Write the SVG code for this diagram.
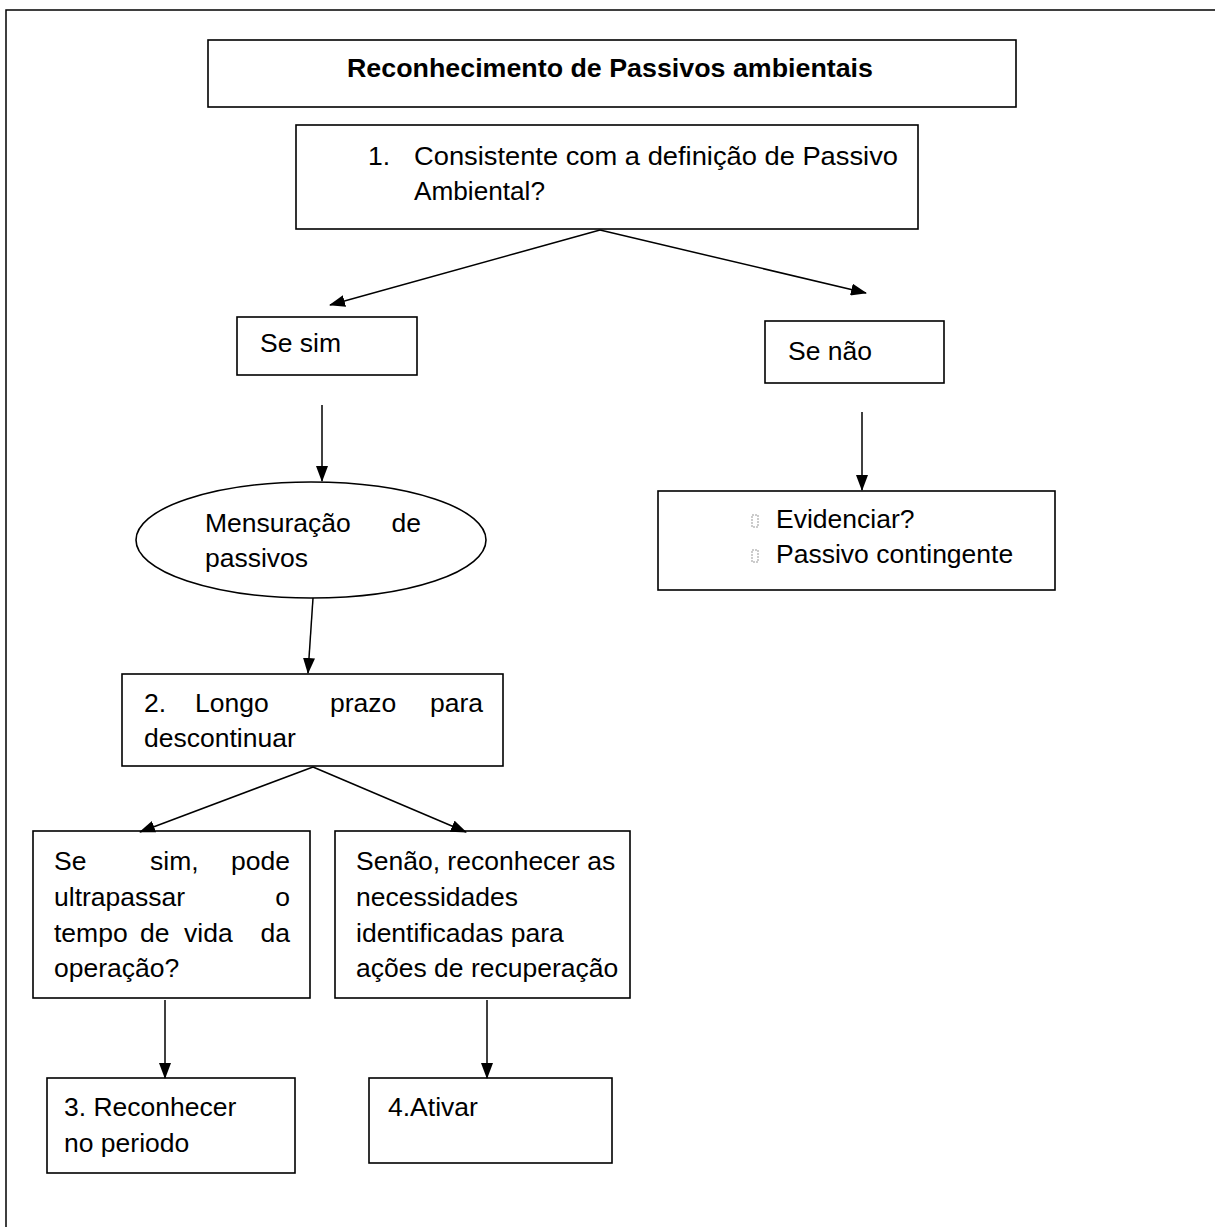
<svg xmlns="http://www.w3.org/2000/svg" width="1215" height="1227" viewBox="0 0 1215 1227">
<defs>
<marker id="ah" viewBox="0 0 16 12" refX="15" refY="6" markerWidth="16" markerHeight="12" markerUnits="userSpaceOnUse" orient="auto">
<path d="M0,0 L16,6 L0,12 z" fill="#000"/>
</marker>
<style>
.box{fill:#fff;stroke:#000;stroke-width:1.6}
.t{font-family:"Liberation Sans",Arial,sans-serif;font-size:26.5px;fill:#000}
.b{font-weight:bold;font-size:25px}
.c{stroke:#000;stroke-width:1.5;fill:none;marker-end:url(#ah)}
.bul{fill:none;stroke:#999;stroke-width:1;stroke-dasharray:2 1}
</style>
</defs>
<rect width="1215" height="1227" fill="#fff"/>
<g id="frame">
<path d="M6,1227 V10 H1215" fill="none" stroke="#000" stroke-width="1.5"/>
</g>
<g id="n-title">
<rect class="box" x="208" y="40" width="808" height="67"/>
<text class="t b" x="347" y="77" textLength="526" lengthAdjust="spacingAndGlyphs">Reconhecimento de Passivos ambientais</text>
</g>
<g id="n1">
<rect class="box" x="296" y="125" width="622" height="104"/>
<text class="t" x="368" y="165">1.</text>
<text class="t" x="414" y="165" textLength="484" lengthAdjust="spacingAndGlyphs">Consistente com a definição de Passivo</text>
<text class="t" x="414" y="200" textLength="131" lengthAdjust="spacingAndGlyphs">Ambiental?</text>
</g>
<g id="n-sesim">
<rect class="box" x="237" y="317" width="180" height="58"/>
<text class="t" x="260" y="352">Se sim</text>
</g>
<g id="n-senao">
<rect class="box" x="765" y="321" width="179" height="62"/>
<text class="t" x="788" y="360">Se não</text>
</g>
<g id="n-mensuracao">
<ellipse class="box" cx="311" cy="540" rx="175" ry="58"/>
<text class="t" x="205" y="532">Mensuração</text>
<text class="t" x="421" y="532" text-anchor="end">de</text>
<text class="t" x="205" y="567">passivos</text>
</g>
<g id="n-evidenciar">
<rect class="box" x="658" y="491" width="397" height="99"/>
<rect class="bul" x="752" y="515" width="6" height="12"/>
<rect class="bul" x="752" y="550" width="6" height="12"/>
<text class="t" x="776" y="528">Evidenciar?</text>
<text class="t" x="776" y="563">Passivo contingente</text>
</g>
<g id="n2">
<rect class="box" x="122" y="674" width="381" height="92"/>
<text class="t" x="144" y="712">2.</text>
<text class="t" x="195" y="712">Longo</text>
<text class="t" x="330" y="712">prazo</text>
<text class="t" x="483" y="712" text-anchor="end">para</text>
<text class="t" x="144" y="747">descontinuar</text>
</g>
<g id="n-sim-ultrapassar">
<rect class="box" x="33" y="831" width="277" height="167"/>
<text class="t" x="54" y="870">Se</text>
<text class="t" x="150" y="870">sim,</text>
<text class="t" x="290" y="870" text-anchor="end">pode</text>
<text class="t" x="54" y="906">ultrapassar</text>
<text class="t" x="290" y="906" text-anchor="end">o</text>
<text class="t" x="54" y="942">tempo</text>
<text class="t" x="140" y="942">de</text>
<text class="t" x="184" y="942">vida</text>
<text class="t" x="290" y="942" text-anchor="end">da</text>
<text class="t" x="54" y="977">operação?</text>
</g>
<g id="n-senao-reconhecer">
<rect class="box" x="335" y="831" width="295" height="167"/>
<text class="t" x="356" y="870">Senão, reconhecer as</text>
<text class="t" x="356" y="906">necessidades</text>
<text class="t" x="356" y="942">identificadas para</text>
<text class="t" x="356" y="977">ações de recuperação</text>
</g>
<g id="n3">
<rect class="box" x="47" y="1078" width="248" height="95"/>
<text class="t" x="64" y="1116">3. Reconhecer</text>
<text class="t" x="64" y="1152">no periodo</text>
</g>
<g id="n4">
<rect class="box" x="369" y="1078" width="243" height="85"/>
<text class="t" x="388" y="1116">4.Ativar</text>
</g>
<g id="connectors">
<line class="c" x1="600" y1="230" x2="330" y2="305"/>
<line class="c" x1="600" y1="230" x2="866" y2="293"/>
<line class="c" x1="322" y1="405" x2="322" y2="481"/>
<line class="c" x1="862" y1="412" x2="862" y2="490"/>
<line class="c" x1="313" y1="598" x2="308" y2="673"/>
<line class="c" x1="313" y1="767" x2="140" y2="832"/>
<line class="c" x1="313" y1="767" x2="466" y2="832"/>
<line class="c" x1="165" y1="1000" x2="165" y2="1078"/>
<line class="c" x1="487" y1="1000" x2="487" y2="1078"/>
</g>
</svg>
